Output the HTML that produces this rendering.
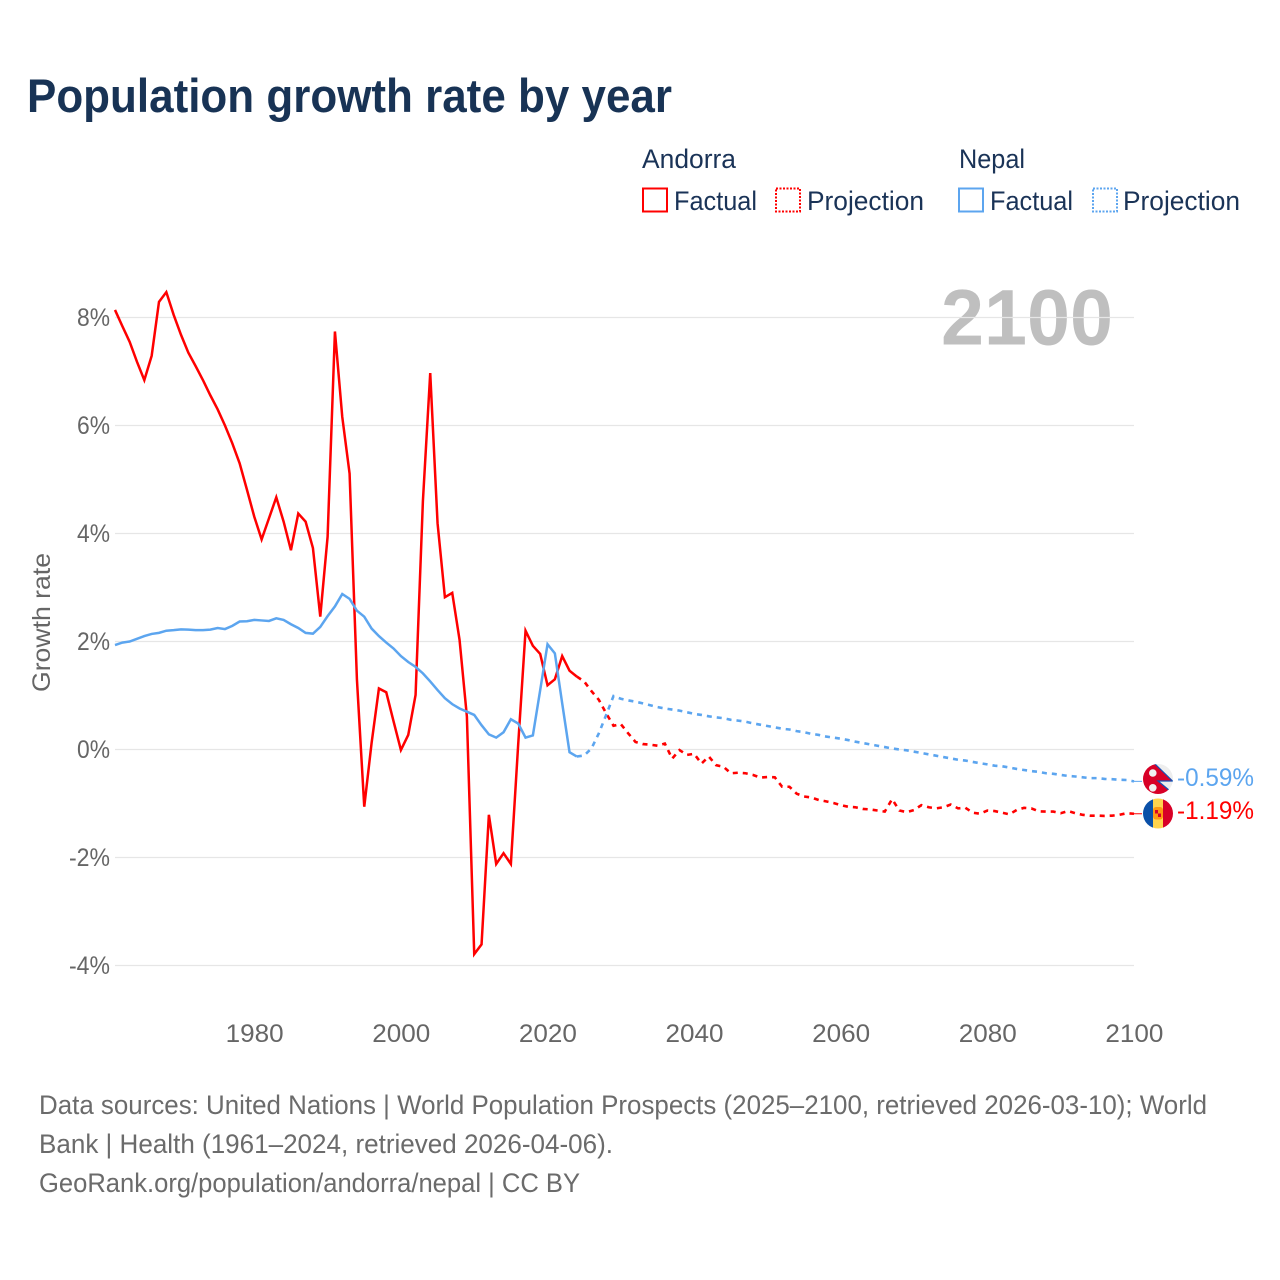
<!DOCTYPE html>
<html lang="en">
<head>
<meta charset="utf-8">
<title>Population growth rate by year</title>
<style>
html,body{margin:0;padding:0;background:#fff;}
svg{display:block;}
text{font-family:"Liberation Sans",sans-serif;}
</style>
</head>
<body>
<svg id="chart" xmlns="http://www.w3.org/2000/svg" width="1280" height="1280" viewBox="0 0 1280 1280">
  <text x="27" y="112" font-size="47" font-weight="700" fill="#183355" textLength="645" lengthAdjust="spacingAndGlyphs">Population growth rate by year</text>

  <g font-size="27" fill="#1a3357">
    <text x="642" y="168" textLength="94" lengthAdjust="spacingAndGlyphs">Andorra</text>
    <rect x="643" y="188.500" width="24" height="23" fill="none" stroke="#ff0000" stroke-width="2"/>
    <text x="674" y="210" textLength="83" lengthAdjust="spacingAndGlyphs">Factual</text>
    <rect x="776" y="188.500" width="24" height="23" fill="none" stroke="#ff0000" stroke-width="2" stroke-dasharray="2 1.500"/>
    <text x="807" y="210" textLength="117" lengthAdjust="spacingAndGlyphs">Projection</text>
    <text x="959" y="168" textLength="66" lengthAdjust="spacingAndGlyphs">Nepal</text>
    <rect x="959" y="188.500" width="24" height="23" fill="none" stroke="#5ca5ef" stroke-width="2"/>
    <text x="990" y="210" textLength="83" lengthAdjust="spacingAndGlyphs">Factual</text>
    <rect x="1093" y="188.500" width="24" height="23" fill="none" stroke="#5ca5ef" stroke-width="2" stroke-dasharray="2 1.500"/>
    <text x="1123" y="210" textLength="117" lengthAdjust="spacingAndGlyphs">Projection</text>
  </g>

  <text x="941" y="344.500" font-size="79" font-weight="700" fill="#bfbfbf" textLength="172" lengthAdjust="spacingAndGlyphs">2100</text>

  <g id="grid"></g>
  <g id="y-ticks" font-size="25" fill="#666"></g>
  <g id="x-ticks" font-size="25" fill="#666"></g>
  <text transform="translate(50,622.500) rotate(-90)" text-anchor="middle" font-size="25" fill="#666" textLength="139" lengthAdjust="spacingAndGlyphs">Growth rate</text>
  <g id="series"></g>

  <defs>
    <clipPath id="clip-nepal"><circle cx="1158" cy="779" r="15"/></clipPath>
    <clipPath id="clip-andorra"><circle cx="1158" cy="813.500" r="15"/></clipPath>
  </defs>
  <g clip-path="url(#clip-nepal)">
    <rect x="1143" y="764" width="30" height="30" fill="#eeeeee"/>
    <polygon points="1140,764 1155,764 1172.500,781 1158,781 1172.500,793 1172.500,796 1140,796" fill="#d80027" stroke="#1450b4" stroke-width="1.200"/>
    <circle cx="1152.800" cy="773" r="3.800" fill="#f0f0f0"/>
    <circle cx="1152.800" cy="787.800" r="3.800" fill="#f0f0f0"/>
  </g>
  <g clip-path="url(#clip-andorra)">
    <rect x="1143" y="798" width="10" height="31" fill="#0a50a8"/>
    <rect x="1153" y="798" width="10" height="31" fill="#ffd44d"/>
    <rect x="1163" y="798" width="10" height="31" fill="#d80027"/>
    <rect x="1153" y="807" width="10" height="12.500" rx="3" fill="#ff9811"/>
    <rect x="1155" y="810" width="3" height="3.500" fill="#d80027"/>
    <rect x="1158" y="813.500" width="3" height="3.500" fill="#d80027"/>
  </g>

  <g font-size="27" fill="#6b6b6b">
    <text x="39" y="1114" textLength="1168" lengthAdjust="spacingAndGlyphs">Data sources: United Nations | World Population Prospects (2025–2100, retrieved 2026-03-10); World</text>
    <text x="39" y="1153" textLength="574" lengthAdjust="spacingAndGlyphs">Bank | Health (1961–2024, retrieved 2026-04-06).</text>
    <text x="39" y="1192" textLength="541" lengthAdjust="spacingAndGlyphs">GeoRank.org/population/andorra/nepal | CC BY</text>
  </g>
</svg>

<script>
const firstYear = 1961;
const yTicks = [8, 6, 4, 2, 0, -2, -4];
const xTicks = [1980, 2000, 2020, 2040, 2060, 2080, 2100];
const andorraFactual = [8.14,7.84,7.55,7.18,6.84,7.29,8.29,8.47,8.05,7.68,7.35,7.10,6.84,6.56,6.30,6.00,5.67,5.30,4.81,4.31,3.89,4.28,4.67,4.22,3.69,4.37,4.22,3.73,2.46,3.94,7.74,6.16,5.11,1.30,-1.06,0.12,1.13,1.06,0.52,-0.01,0.27,1.01,4.60,6.97,4.19,2.82,2.90,2.03,0.61,-3.79,-3.61,-1.21,-2.12,-1.92,-2.12,0.10,2.20,1.92,1.77,1.19,1.30,1.73,1.46,1.35];
const andorraProjection = [1.26,1.08,0.92,0.67,0.44,0.47,0.30,0.14,0.10,0.09,0.07,0.11,-0.17,-0.01,-0.10,-0.08,-0.26,-0.13,-0.29,-0.32,-0.44,-0.43,-0.44,-0.47,-0.52,-0.51,-0.515,-0.69,-0.69,-0.82,-0.87,-0.89,-0.935,-0.96,-0.99,-1.03,-1.06,-1.07,-1.10,-1.11,-1.13,-1.15,-0.92,-1.13,-1.16,-1.12,-1.03,-1.07,-1.09,-1.07,-1.02,-1.09,-1.08,-1.17,-1.19,-1.13,-1.14,-1.17,-1.20,-1.12,-1.08,-1.09,-1.145,-1.15,-1.15,-1.18,-1.14,-1.18,-1.21,-1.225,-1.225,-1.23,-1.225,-1.21,-1.18,-1.19];
const nepalFactual = [1.935,1.98,2.00,2.05,2.10,2.14,2.16,2.20,2.21,2.225,2.22,2.21,2.21,2.22,2.25,2.23,2.29,2.37,2.375,2.40,2.39,2.38,2.43,2.40,2.32,2.25,2.16,2.145,2.27,2.47,2.65,2.88,2.79,2.57,2.46,2.24,2.10,1.98,1.87,1.73,1.62,1.53,1.41,1.26,1.10,0.95,0.84,0.76,0.70,0.64,0.45,0.28,0.22,0.32,0.56,0.48,0.22,0.26,1.10,1.95,1.78,0.855,-0.05,-0.13];
const nepalProjection = [-0.11,0.02,0.30,0.64,0.99,0.94,0.91,0.885,0.855,0.82,0.785,0.76,0.74,0.72,0.69,0.66,0.64,0.615,0.595,0.58,0.55,0.535,0.515,0.485,0.46,0.435,0.41,0.385,0.37,0.34,0.32,0.29,0.27,0.24,0.22,0.20,0.175,0.145,0.12,0.095,0.07,0.045,0.02,0.00,-0.015,-0.04,-0.065,-0.09,-0.115,-0.14,-0.165,-0.19,-0.205,-0.23,-0.255,-0.275,-0.30,-0.31,-0.335,-0.36,-0.38,-0.40,-0.415,-0.44,-0.45,-0.47,-0.49,-0.50,-0.515,-0.53,-0.53,-0.545,-0.55,-0.56,-0.565,-0.59];
const andorraEndLabel = "-1.19%";
const nepalEndLabel = "-0.59%";

const NS = "http://www.w3.org/2000/svg";
const RED = "#ff0000";
const BLUE = "#5ca5ef";
const PLOT_LEFT = 115;
const PLOT_RIGHT = 1134;

function xScale(year) { return 115 + (year - 1961) * 7.331; }
function yScale(value) { return 749.5 - value * 54; }

function make(tag, attrs, parent) {
  const el = document.createElementNS(NS, tag);
  for (const k in attrs) el.setAttribute(k, attrs[k]);
  parent.appendChild(el);
  return el;
}

function pathFrom(values, startYear, leadValue, leadYear) {
  const pts = [];
  if (leadValue !== undefined) pts.push([xScale(leadYear), yScale(leadValue)]);
  values.forEach(function (v, i) { pts.push([xScale(startYear + i), yScale(v)]); });
  return "M" + pts.map(function (p) { return p[0].toFixed(2) + "," + p[1].toFixed(2); }).join("L");
}

const gridG = document.getElementById("grid");
const yG = document.getElementById("y-ticks");
yTicks.forEach(function (t) {
  const line = make("line", { x1: PLOT_LEFT, x2: PLOT_RIGHT, y1: yScale(t), y2: yScale(t), stroke: "#e6e6e6", "stroke-width": 1.3 }, gridG);
  
  
  const label = make("text", { x: 110, y: yScale(t) + 8.7, "text-anchor": "end", textLength: t < 0 ? 41 : 33, lengthAdjust: "spacingAndGlyphs" }, yG);
  label.textContent = t + "%";
  
  
});

const xG = document.getElementById("x-ticks");
xTicks.forEach(function (t) {
  const label = make("text", { x: xScale(t) + 0.4, y: 1042, "text-anchor": "middle", textLength: 58, lengthAdjust: "spacingAndGlyphs" }, xG);
  label.textContent = t;
  
  
});

const seriesG = document.getElementById("series");
const projectionStart = firstYear + andorraFactual.length;

const andorraFactualPath = make("path", { d: pathFrom(andorraFactual, firstYear), fill: "none", stroke: RED, "stroke-width": 2.5, "stroke-linejoin": "miter" }, seriesG);



const andorraProjectionPath = make("path", { d: pathFrom(andorraProjection, projectionStart, andorraFactual[andorraFactual.length - 1], projectionStart - 1), fill: "none", stroke: RED, "stroke-width": 2.6, "stroke-dasharray": "5 5" }, seriesG);



const nepalFactualPath = make("path", { d: pathFrom(nepalFactual, firstYear), fill: "none", stroke: BLUE, "stroke-width": 2.5 }, seriesG);



const nepalProjectionPath = make("path", { d: pathFrom(nepalProjection, projectionStart, nepalFactual[nepalFactual.length - 1], projectionStart - 1), fill: "none", stroke: BLUE, "stroke-width": 2.6, "stroke-dasharray": "5 5" }, seriesG);



const andorraLast = yScale(andorraProjection[andorraProjection.length - 1]);
const nepalLast = yScale(nepalProjection[nepalProjection.length - 1]);

const andorraLeader = make("line", { x1: PLOT_RIGHT, x2: 1142, y1: andorraLast, y2: andorraLast, stroke: RED, "stroke-width": 1 }, seriesG);



const nepalLeader = make("line", { x1: PLOT_RIGHT, x2: 1142, y1: nepalLast, y2: nepalLast, stroke: BLUE, "stroke-width": 1 }, seriesG);



const nepalEnd = make("text", { x: 1177, y: 786, "font-size": 25, fill: BLUE, textLength: 77, lengthAdjust: "spacingAndGlyphs" }, seriesG);
nepalEnd.textContent = nepalEndLabel;



const andorraEnd = make("text", { x: 1177, y: 819, "font-size": 25, fill: RED, textLength: 77, lengthAdjust: "spacingAndGlyphs" }, seriesG);
andorraEnd.textContent = andorraEndLabel;


</script>
</body>
</html>
